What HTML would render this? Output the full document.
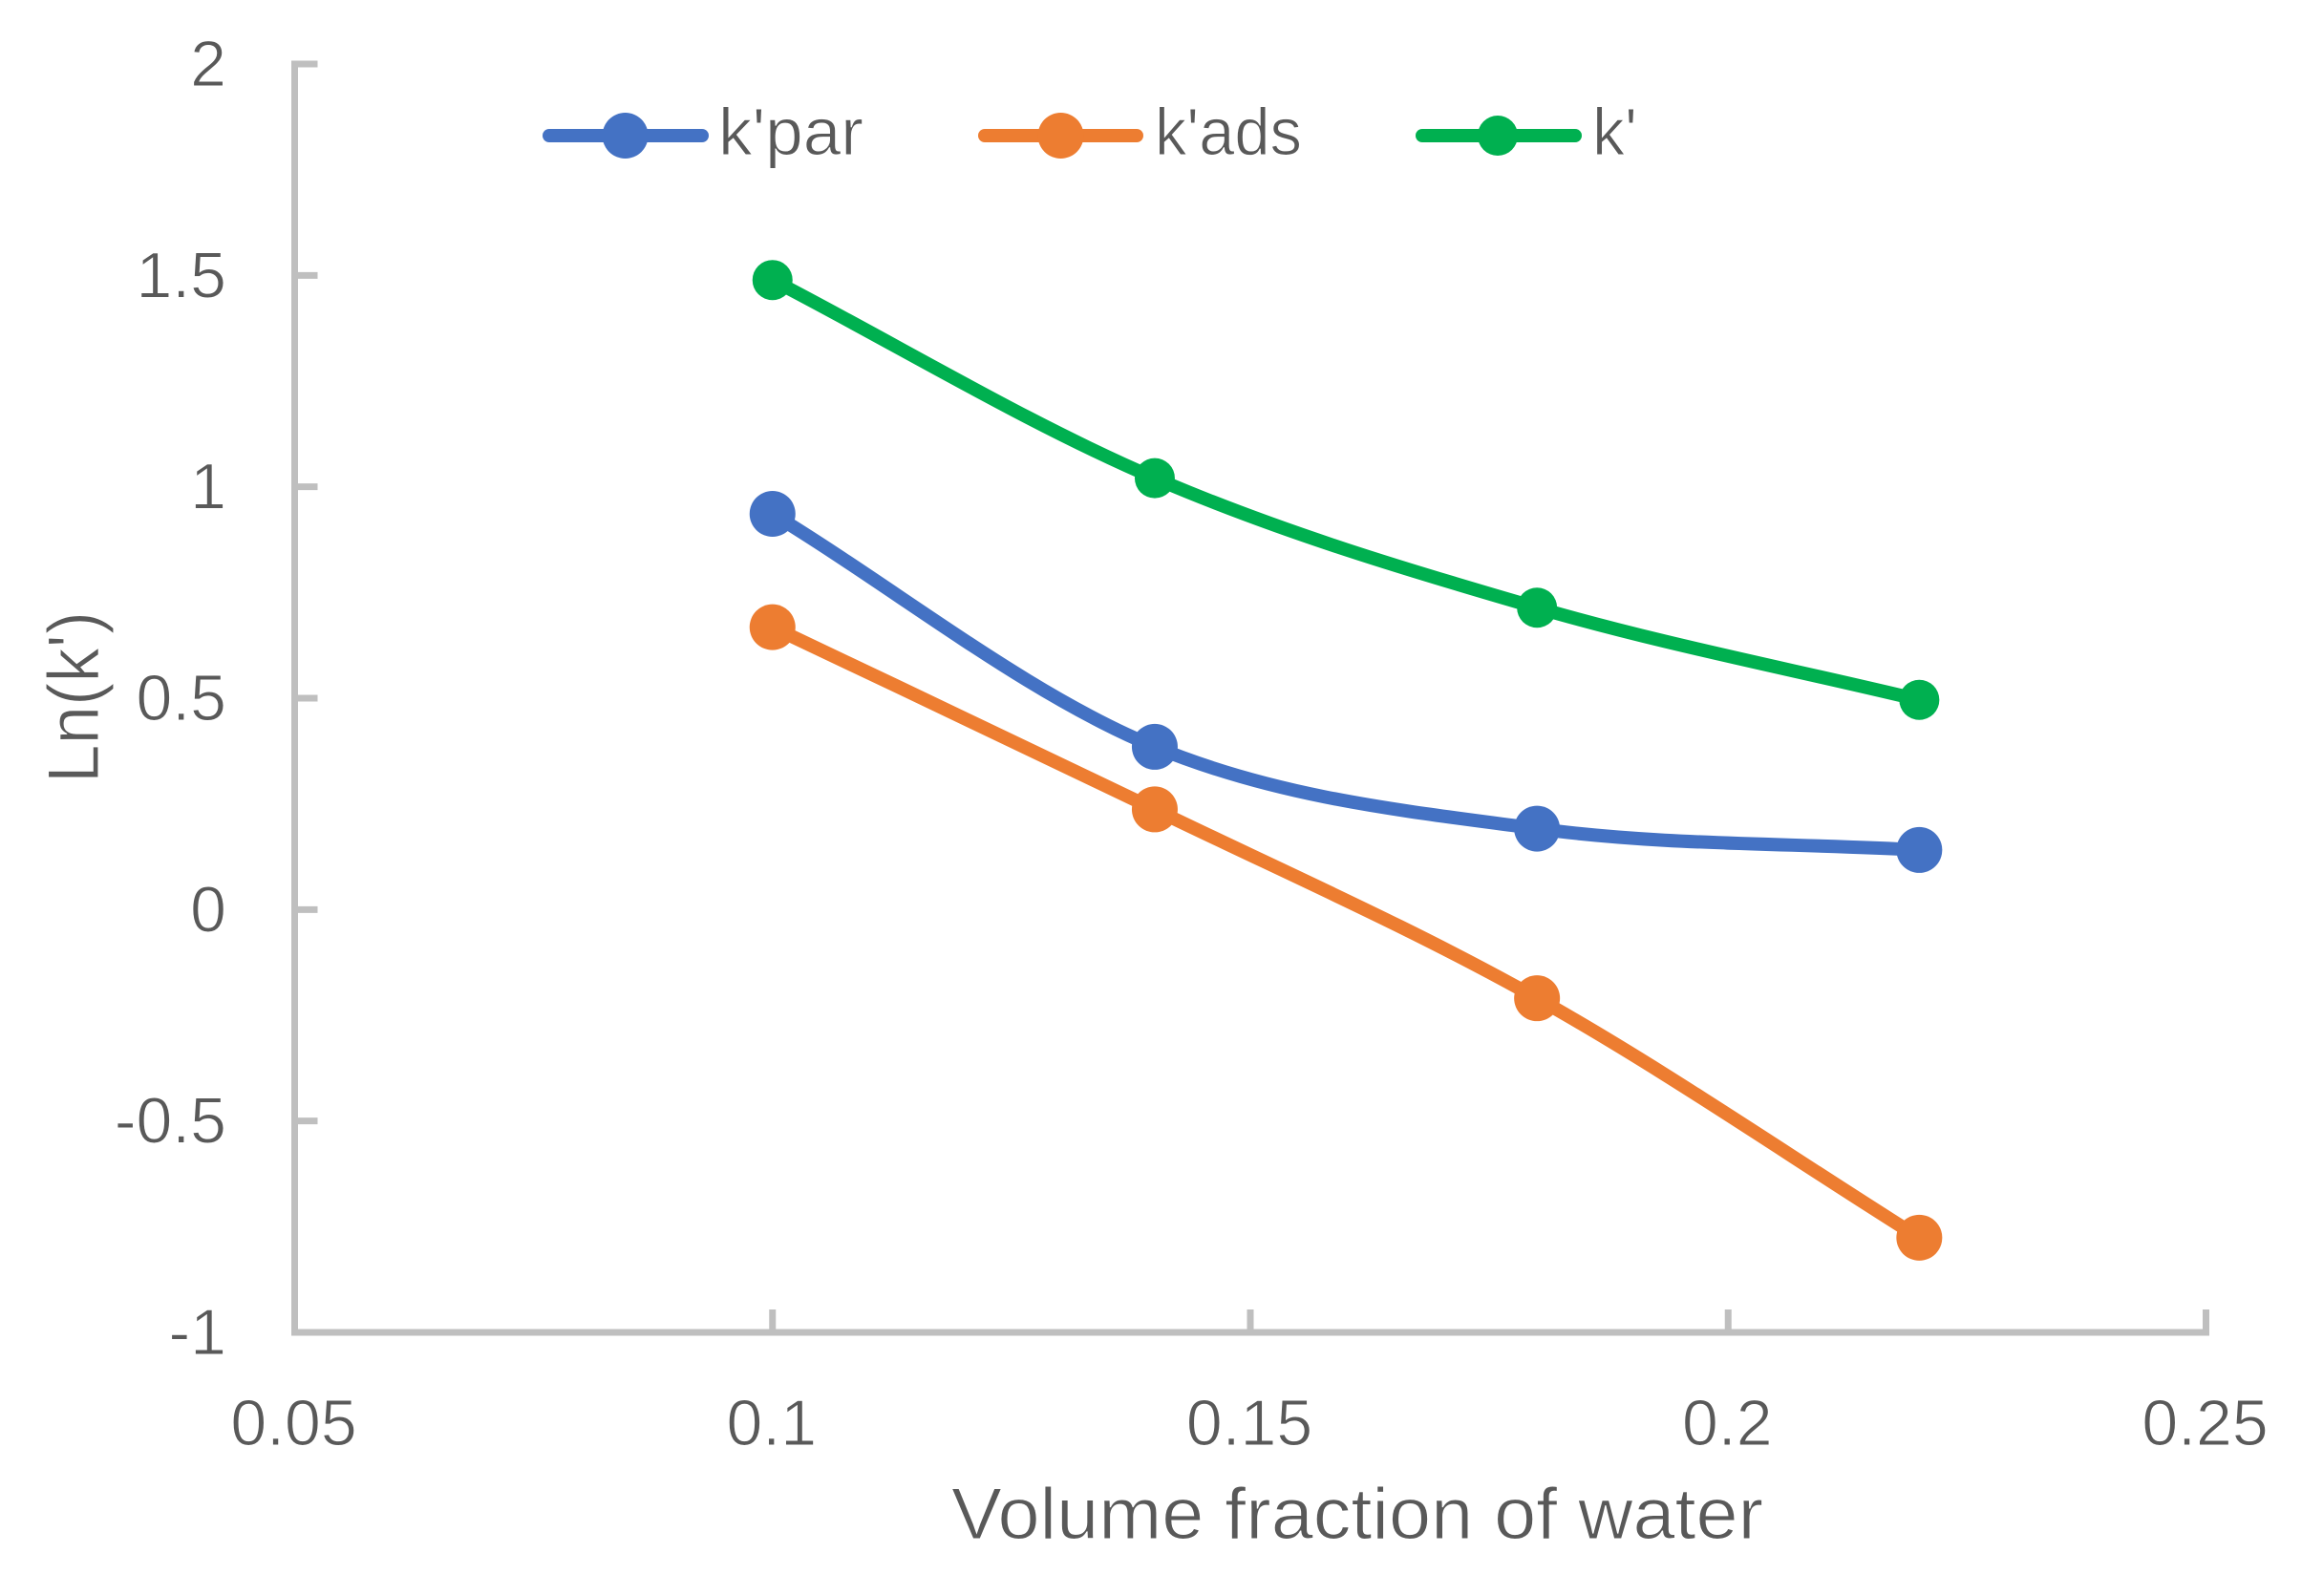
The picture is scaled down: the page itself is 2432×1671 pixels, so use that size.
<!DOCTYPE html>
<html lang="en">
<head>
<meta charset="utf-8">
<title>Ln(k') vs volume fraction of water</title>
<style>
html,body{margin:0;padding:0;background:#fff;width:2432px;height:1671px;overflow:hidden}
svg{display:block}
text{font-family:"Liberation Sans",sans-serif;fill:#595959;stroke:#fff;stroke-width:1.1px}
</style>
</head>
<body>
<svg id="chart" xmlns="http://www.w3.org/2000/svg" width="2432" height="1671" viewBox="0 0 2432 1671">
  <rect x="0" y="0" width="2432" height="1671" fill="#ffffff"/>
  <g id="axes"></g>
  <g id="series"></g>
  <text x="996" y="1611" font-size="76" textLength="850" lengthAdjust="spacingAndGlyphs">Volume fraction of water</text>
  <text transform="translate(103,820) rotate(-90)" x="0" y="0" font-size="76" textLength="180" lengthAdjust="spacingAndGlyphs">Ln(k')</text>
  <g>
    <g>
      <line x1="575" y1="142" x2="735" y2="142" stroke="#4472C4" stroke-width="14" stroke-linecap="round"/>
      <circle cx="654.6" cy="142" r="24" fill="#4472C4"/>
      <text x="752" y="162" font-size="70" textLength="152" lengthAdjust="spacingAndGlyphs">k'par</text>
    </g>
    <g>
      <line x1="1031" y1="142" x2="1190" y2="142" stroke="#ED7D31" stroke-width="14" stroke-linecap="round"/>
      <circle cx="1110.5" cy="142" r="24" fill="#ED7D31"/>
      <text x="1209" y="162" font-size="70" textLength="154" lengthAdjust="spacingAndGlyphs">k'ads</text>
    </g>
    <g>
      <line x1="1489" y1="142" x2="1649" y2="142" stroke="#00B050" stroke-width="14" stroke-linecap="round"/>
      <circle cx="1568" cy="142" r="21" fill="#00B050"/>
      <text x="1667" y="162" font-size="70" textLength="47" lengthAdjust="spacingAndGlyphs">k'</text>
    </g>
  </g>
</svg>
<script>
const xValues = [0.1, 0.14, 0.18, 0.22];
const kParValues = [0.936, 0.385, 0.1915, 0.141];
const kAdsValues = [0.668, 0.237, -0.2097, -0.776];
const kValues = [1.489, 1.0205, 0.714, 0.496];
const xTickValues = [0.05, 0.1, 0.15, 0.2, 0.25];
const yTickValues = [2, 1.5, 1, 0.5, 0, -0.5, -1];

const NS = 'http://www.w3.org/2000/svg';
const axisLeft = 308.5, axisRight = 2309.5, axisTop = 67, axisBottom = 1395;
const xMin = 0.05, xMax = 0.25, yMin = -1, yMax = 2;
function xScale(v) { return axisLeft + (v - xMin) / (xMax - xMin) * (axisRight - axisLeft); }
function yScale(v) { return axisBottom - (v - yMin) / (yMax - yMin) * (axisBottom - axisTop); }
function make(tag, parent) {
  const el = document.createElementNS(NS, tag);
  parent.appendChild(el);
  return el;
}
function setLine(el, x1, y1, x2, y2) {
  el.setAttribute('x1', x1);
  el.setAttribute('y1', y1);
  el.setAttribute('x2', x2);
  el.setAttribute('y2', y2);
  el.setAttribute('stroke', '#BFBFBF');
  el.setAttribute('stroke-width', '7');
}
const axes = document.getElementById('axes');

const xAxisLine = make('line', axes);


setLine(xAxisLine, axisLeft - 3.5, axisBottom, axisRight + 3.5, axisBottom);

const yAxisLine = make('line', axes);


setLine(yAxisLine, axisLeft, axisTop - 3.5, axisLeft, axisBottom + 3.5);

xTickValues.forEach(function (v) {
  const t = make('line', axes);
  
  
  setLine(t, xScale(v), axisBottom, xScale(v), axisBottom - 24);
  const l = make('text', axes);
  
  
  l.setAttribute('x', xScale(v) - 1);
  l.setAttribute('y', 1513);
  l.setAttribute('font-size', '68');
  l.setAttribute('text-anchor', 'middle');
  l.textContent = String(v);
});
yTickValues.forEach(function (v) {
  const t = make('line', axes);
  
  
  setLine(t, axisLeft, yScale(v), axisLeft + 24, yScale(v));
  const l = make('text', axes);
  
  
  l.setAttribute('x', 237);
  l.setAttribute('y', yScale(v) + 23);
  l.setAttribute('font-size', '68');
  l.setAttribute('text-anchor', 'end');
  l.textContent = String(v);
});

function smoothPath(pts) {
  let d = 'M' + pts[0][0] + ' ' + pts[0][1];
  const last = pts.length - 2;
  for (let i = 0; i <= last; i++) {
    const p1 = pts[i], p2 = pts[i + 1];
    let c1x, c1y, c2x, c2y;
    if (i === 0) {
      c1x = p1[0] + (p2[0] - p1[0]) / 3;
      c1y = p1[1] + (p2[1] - p1[1]) / 3;
    } else {
      c1x = p1[0] + (p2[0] - pts[i - 1][0]) / 6;
      c1y = p1[1] + (p2[1] - pts[i - 1][1]) / 6;
    }
    if (i === last) {
      c2x = p2[0] - (p2[0] - p1[0]) / 3;
      c2y = p2[1] - (p2[1] - p1[1]) / 3;
    } else {
      c2x = p2[0] - (pts[i + 2][0] - p1[0]) / 6;
      c2y = p2[1] - (pts[i + 2][1] - p1[1]) / 6;
    }
    d += ' C' + c1x + ' ' + c1y + ' ' + c2x + ' ' + c2y + ' ' + p2[0] + ' ' + p2[1];
  }
  return d;
}
function drawSeries(name, values, color, radius) {
  const root = document.getElementById('series');
  const pts = values.map(function (v, i) { return [xScale(xValues[i]), yScale(v)]; });
  const path = make('path', root);
  
  
  path.setAttribute('d', smoothPath(pts));
  path.setAttribute('fill', 'none');
  path.setAttribute('stroke', color);
  path.setAttribute('stroke-width', '14');
  path.setAttribute('stroke-linecap', 'round');
  pts.forEach(function (p) {
    const c = make('circle', root);
    
    
    c.setAttribute('cx', p[0]);
    c.setAttribute('cy', p[1]);
    c.setAttribute('r', radius);
    c.setAttribute('fill', color);
  });
}
drawSeries('k-par', kParValues, '#4472C4', 24);
drawSeries('k-ads', kAdsValues, '#ED7D31', 24);
drawSeries('k', kValues, '#00B050', 21);
</script>
</body>
</html>
